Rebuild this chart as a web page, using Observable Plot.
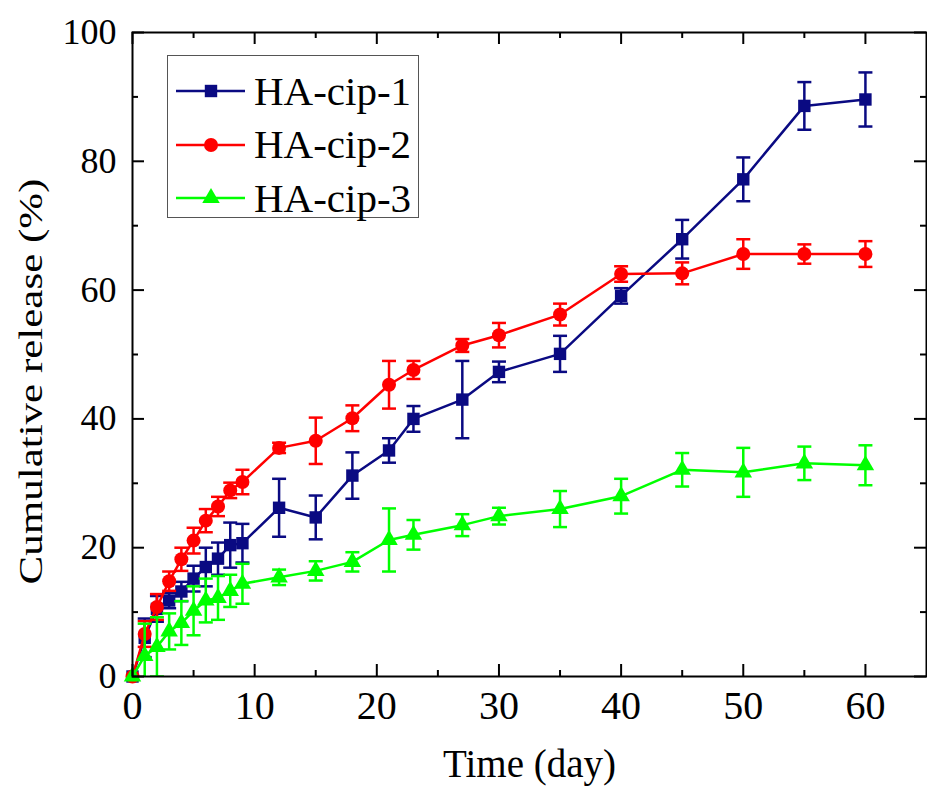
<!DOCTYPE html>
<html>
<head>
<meta charset="utf-8">
<script src="https://cdn.jsdelivr.net/npm/d3@7"></script>
<script src="https://cdn.jsdelivr.net/npm/@observablehq/plot@0.6"></script>
<style>
  html, body { margin: 0; padding: 0; background: #fff; }
  #wrap { position: relative; width: 927px; height: 803px; font-family: "Liberation Serif", "Times New Roman", serif; }
  #legend { position: absolute; left: 167px; top: 55px; width: 252px; height: 163px; box-sizing: border-box; border: 1.5px solid #555; background: #fff; }
  .row { position: absolute; left: 0; height: 50px; display: flex; align-items: center; }
  .row svg { display: block; }
  .row span { font-size: 41px; color: #000; margin-left: 6px; line-height: 1; }
</style>
</head>
<body>
<div id="wrap"><div id="chart"></div><div id="legend"></div></div>
<script>
// ---- data ----
const days = [0, 1, 2, 3, 4, 5, 6, 7, 8, 9, 12, 15, 18, 21, 23, 27, 30, 35, 40, 45, 50, 55, 60];
const cip1 = [0, 6.0, 10.5, 11.8, 13.2, 15.2, 17.0, 18.3, 20.4, 20.7, 26.2, 24.7, 31.2, 35.1, 40.0, 43.0, 47.3, 50.1, 59.1, 67.9, 77.2, 88.6, 89.6];
const cip1Err = [0, 3.0, 2.0, 1.2, 1.5, 2.0, 3.0, 2.5, 3.5, 3.0, 4.5, 3.4, 3.6, 1.9, 2.0, 6.0, 1.6, 2.8, 1.2, 3.0, 3.4, 3.7, 4.2];
const cip2 = [0, 6.6, 10.8, 14.8, 18.2, 21.1, 24.2, 26.4, 28.9, 30.2, 35.5, 36.6, 40.1, 45.3, 47.6, 51.4, 53.0, 56.2, 62.5, 62.6, 65.6, 65.6, 65.6];
const cip2Err = [0, 2.0, 2.0, 1.5, 1.8, 2.0, 1.8, 1.5, 1.2, 1.9, 0.8, 3.6, 2.0, 3.7, 1.4, 1.0, 1.9, 1.7, 1.2, 1.7, 2.3, 1.5, 2.0];
const cip3 = [0, 3.2, 4.6, 7.0, 8.3, 10.2, 11.8, 12.2, 13.3, 14.4, 15.4, 16.4, 17.8, 21.2, 22.0, 23.5, 24.9, 26.0, 28.0, 32.1, 31.7, 33.1, 32.8];
const cip3Err = [0, 5.0, 4.6, 2.8, 3.4, 3.8, 3.4, 3.4, 2.5, 3.1, 1.2, 1.5, 1.5, 4.9, 2.3, 1.7, 1.3, 2.8, 2.7, 2.6, 3.8, 2.6, 3.1];
const seriesNames = ["HA-cip-1", "HA-cip-2", "HA-cip-3"];
const seriesColors = ["#0a0a82", "#ff0000", "#00ff00"];
const seriesSymbols = ["square", "circle", "triangle"];
const xMajor = [0, 10, 20, 30, 40, 50, 60];
const xMinor = [5, 15, 25, 35, 45, 55];
const yMajor = [0, 20, 40, 60, 80, 100];
const yMinor = [10, 30, 50, 70, 90];
const xTitle = "Time (day)";
const yTitle = "Cumulative release (%)";

// ---- build tables ----
const values = [cip1, cip2, cip3];
const errs = [cip1Err, cip2Err, cip3Err];
const series = seriesNames.map((name, i) => days.map((d, j) => ({
  name, day: d, v: values[i][j], lo: values[i][j] - errs[i][j], hi: values[i][j] + errs[i][j]
})));

const W = 927, H = 803;
const mL = 132, mR = 1, mT = 32, mB = 127;
const pw = W - mL - mR, ph = H - mT - mB;

const capSymbol = {
  draw(context, size) {
    const w = Math.sqrt(size / Math.PI);
    context.moveTo(-w, 0);
    context.lineTo(w, 0);
  }
};

const marks = [];
series.forEach((s, i) => {
  const c = seriesColors[i];
  const withErr = s.filter(d => d.hi > d.lo);
  marks.push(Plot.line(s, {x: "day", y: "v", stroke: c, strokeWidth: 2.5}));
  marks.push(Plot.ruleX(withErr, {x: "day", y1: "lo", y2: "hi", stroke: c, strokeWidth: 2.5, clip: true}));
  marks.push(Plot.dot(withErr, {x: "day", y: "hi", symbol: capSymbol, r: 7, fill: "none", stroke: c, strokeWidth: 2.5, clip: true}));
  marks.push(Plot.dot(withErr, {x: "day", y: "lo", symbol: capSymbol, r: 7, fill: "none", stroke: c, strokeWidth: 2.5, clip: true}));
  marks.push(Plot.dot(s, {x: "day", y: "v", symbol: seriesSymbols[i], r: i === 2 ? 6.5 : 7, fill: c, stroke: "none"}));
});

const tickStyle = {stroke: "black", strokeWidth: 2};
const chart = Plot.plot({
  width: W, height: H,
  marginLeft: mL, marginRight: mR, marginTop: mT, marginBottom: mB,
  style: {fontFamily: '"Liberation Serif", "Times New Roman", serif', background: "white", overflow: "visible"},
  x: {domain: [0, 65]},
  y: {domain: [0, 100]},
  marks: [
    ...marks,
    // inward ticks on all four sides
    Plot.tickX(xMajor, {x: d => d, insetTop: ph - 12, ...tickStyle}),
    Plot.tickX(xMajor, {x: d => d, insetBottom: ph - 12, ...tickStyle}),
    Plot.tickX(xMinor, {x: d => d, insetTop: ph - 6, ...tickStyle}),
    Plot.tickX(xMinor, {x: d => d, insetBottom: ph - 6, ...tickStyle}),
    Plot.tickY(yMajor, {y: d => d, insetRight: pw - 12, ...tickStyle}),
    Plot.tickY(yMajor, {y: d => d, insetLeft: pw - 12, ...tickStyle}),
    Plot.tickY(yMinor, {y: d => d, insetRight: pw - 6, ...tickStyle}),
    Plot.tickY(yMinor, {y: d => d, insetLeft: pw - 6, ...tickStyle}),
    Plot.frame({stroke: "black", strokeWidth: 2}),
    Plot.axisX(xMajor, {tickSize: 0, tickPadding: 14, fontSize: 40, label: null, fill: "black"}),
    Plot.axisY(yMajor, {tickSize: 0, tickPadding: 16, fontSize: 36, label: null, fill: "black"}),
    Plot.text([xTitle], {frameAnchor: "bottom", dy: 100, text: d => d, fontSize: 39, fill: "black"}),
    Plot.text([yTitle], {frameAnchor: "left", dx: -102, dy: 27, rotate: -90, textAnchor: "middle", text: d => d, fontSize: 43, fill: "black", className: "ytitle"})
  ]
});
document.getElementById("chart").appendChild(chart);
// condense the rotated y title a little, like the reference's narrow glyphs
d3.select(chart).selectAll(".ytitle text").each(function() {
  const t = this.getAttribute("transform") || "";
  this.setAttribute("transform", t + " scale(1,0.8)");
});

// ---- legend (inside the frame, top-left) ----
const legend = document.getElementById("legend");
seriesNames.forEach((name, i) => {
  const row = document.createElement("div");
  row.className = "row";
  row.style.top = (10 + i * 53.5) + "px";
  const svg = d3.create("svg").attr("width", 80).attr("height", 50);
  svg.append("line").attr("x1", 8).attr("x2", 77).attr("y1", 25).attr("y2", 25)
    .attr("stroke", seriesColors[i]).attr("stroke-width", 2.5);
  const sym = {square: d3.symbolSquare, circle: d3.symbolCircle, triangle: d3.symbolTriangle}[seriesSymbols[i]];
  svg.append("path").attr("transform", "translate(43,25)")
    .attr("d", d3.symbol(sym, (i === 2 ? 6.5 : 7) ** 2 * Math.PI)())
    .attr("fill", seriesColors[i]);
  row.appendChild(svg.node());
  const t = document.createElement("span");
  t.textContent = name;
  row.appendChild(t);
  legend.appendChild(row);
});
</script>
</body>
</html>
